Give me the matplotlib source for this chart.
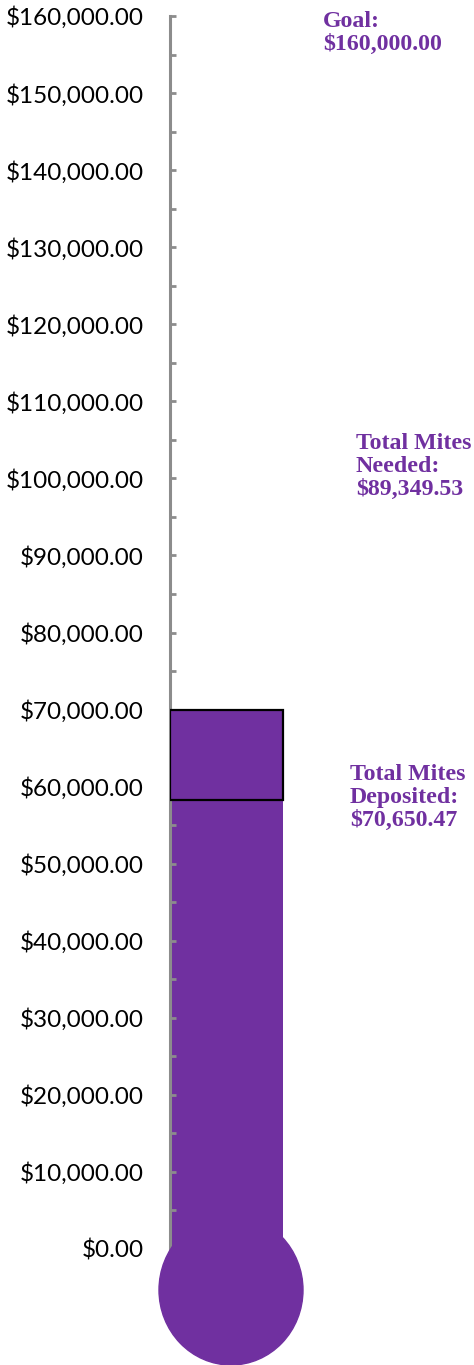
import matplotlib
matplotlib.use('Agg')

import numpy as np
from matplotlib import pyplot as plt
from matplotlib.patches import Ellipse, Rectangle
from matplotlib.ticker import MultipleLocator, FuncFormatter

# values
goal = 160000.00
deposited = 70650.47
needed = 89349.53
fill_level = 58300      # solid mercury column
box_top = 70000         # outlined segment on top of it

purple = '#7030A0'
grey = '#8c8c8c'

fig = plt.figure(figsize=(4.74, 13.65), dpi=100)
ax = fig.add_axes([170/474, 116/1365, 304/474, 1233/1365])

ax.set_ylim(0, goal)
ax.set_xlim(0, 1)

bar_w = 113/304
ax.bar([0], [fill_level], width=bar_w, align='edge', color=purple, zorder=0.5)
ax.add_patch(Rectangle((0, fill_level), bar_w, box_top - fill_level,
                       facecolor=purple, edgecolor='black', lw=1.6, zorder=3))

# bulb at the bottom
px_per_val = 1233 / goal
ax.add_patch(Ellipse((61/304, -41/px_per_val), 144/304, 150/px_per_val,
                     color=purple, clip_on=False, zorder=4))

for s in ['top', 'right', 'bottom']:
    ax.spines[s].set_visible(False)
ax.spines['left'].set_color(grey)
ax.spines['left'].set_linewidth(2.2)
ax.spines['left'].set_zorder(2.5)
ax.yaxis.set_zorder(2.5)

ax.yaxis.set_major_locator(MultipleLocator(10000))
ax.yaxis.set_minor_locator(MultipleLocator(5000))
ax.yaxis.set_major_formatter(FuncFormatter(lambda v, p: '${:,.2f}'.format(v)))
ax.tick_params(axis='y', which='both', direction='in', color=grey, width=2,
               length=4, pad=19)
ax.tick_params(axis='y', which='major', labelsize=17.5)
for t in ax.get_yticklabels():
    t.set_family('Lato')
ax.set_xticks([])

txt = dict(color=purple, fontsize=17.2, fontweight='bold',
           family='Liberation Serif', ha='left', va='top', linespacing=1.12)
fig.text(323/474, 1 - 11/1365, 'Goal:\n${:,.2f}'.format(goal), **txt)
fig.text(356/474, 1 - 433/1365, 'Total Mites\nNeeded:\n${:,.2f}'.format(needed), **txt)
fig.text(350/474, 1 - 764/1365, 'Total Mites\nDeposited:\n${:,.2f}'.format(deposited), **txt)

plt.savefig('out.png', dpi=100)
